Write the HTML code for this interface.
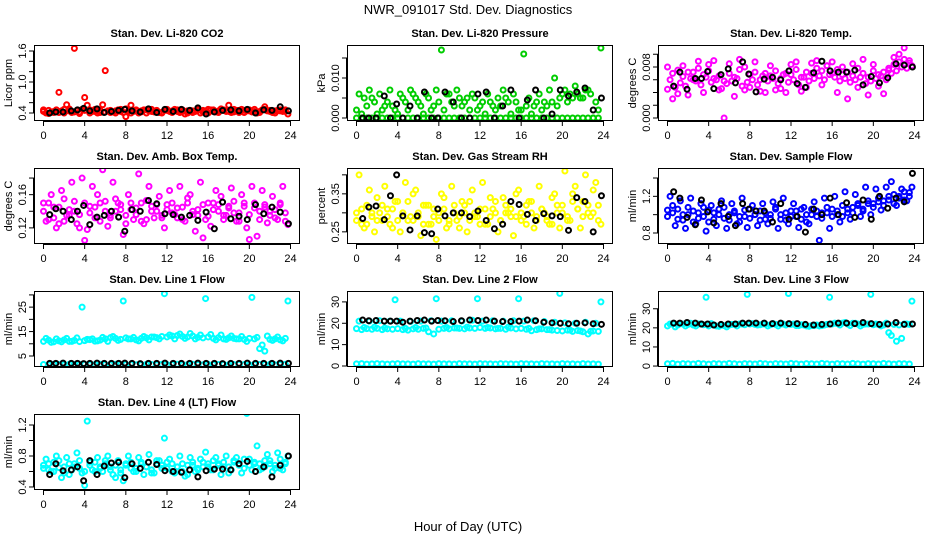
<!DOCTYPE html>
<html><head><meta charset="utf-8"><style>
body{margin:0;background:#fff;width:936px;height:540px;overflow:hidden}
svg{display:block;font-family:"Liberation Sans",sans-serif}
</style></head><body>
<svg id="c" width="936" height="540">
<text x="468" y="14" text-anchor="middle" font-size="13">NWR_091017  Std. Dev. Diagnostics</text>
<text x="468" y="531" text-anchor="middle" font-size="13">Hour of Day (UTC)</text>
</svg>
<script>
const H1=[0,0.5,1,1.5,2,2.5,3,3.5,4,4.5,5,5.5,6,6.5,7,7.5,8,8.5,9,9.5,10,10.5,11,11.5,12,12.5,13,13.5,14,14.5,15,15.5,16,16.5,17,17.5,18,18.5,19,19.5,20,20.5,21,21.5,22,22.5,23,23.5];
const H2=[0.25,0.75,1.25,1.75,2.25,2.75,3.25,3.75,4.25,4.75,5.25,5.75,6.25,6.75,7.25,7.75,8.25,8.75,9.25,9.75,10.25,10.75,11.25,11.75,12.25,12.75,13.25,13.75,14.25,14.75,15.25,15.75,16.25,16.75,17.25,17.75,18.25,18.75,19.25,19.75,20.25,20.75,21.25,21.75,22.25,22.75,23.25,23.75];
const HK=[0.6,1.2,1.9,2.7,3.3,3.9,4.5,5.2,5.9,6.6,7.3,7.9,8.6,9.4,10.2,11.0,11.8,12.6,13.4,14.2,15.0,15.8,16.6,17.4,18.2,19.0,19.8,20.6,21.4,22.2,23.0,23.8];
const xTicks=[0,4,8,12,16,20,24];

const co2A=[0.43,0.45,0.41,0.80,0.47,0.44,1.65,0.42,0.70,0.46,0.43,0.45,1.22,0.41,0.44,0.47,0.33,0.55,0.44,0.42,0.46,0.43,0.45,0.41,0.47,0.44,0.43,0.46,0.40,0.44,0.45,0.42,0.47,0.43,0.44,0.46,0.55,0.42,0.45,0.41,0.44,0.47,0.43,0.52,0.45,0.44,0.46,0.43];
const co2B=[0.40,0.42,0.46,0.44,0.56,0.41,0.45,0.47,0.55,0.43,0.40,0.56,0.44,0.42,0.46,0.41,0.44,0.43,0.40,0.46,0.44,0.42,0.41,0.45,0.43,0.47,0.41,0.38,0.45,0.43,0.40,0.44,0.46,0.42,0.48,0.43,0.41,0.45,0.47,0.44,0.42,0.40,0.46,0.44,0.41,0.45,0.43,0.38];
const co2C=[0.46,0.39,0.43,0.41,0.40,0.48,0.42,0.39,0.45,0.40,0.47,0.41,0.42,0.45,0.40,0.43,0.48,0.40,0.46,0.44,0.40,0.47,0.43,0.40,0.45,0.41,0.46,0.43,0.44,0.41,0.47,0.45,0.40,0.46,0.41,0.45,0.43,0.47,0.41,0.45,0.46,0.43,0.41,0.47,0.43,0.40,0.44,0.46];
const co2K=[0.40,0.42,0.42,0.44,0.46,0.49,0.44,0.48,0.41,0.43,0.45,0.47,0.44,0.42,0.48,0.41,0.47,0.43,0.47,0.45,0.50,0.38,0.42,0.45,0.46,0.44,0.47,0.40,0.46,0.45,0.52,0.44];

const presA=[0,0,0,0,0,0,0,0,0,0,0,0,0,0,0,0,0,0,0,0,0,0,0,0,0,0,0,0,0,0,0,0,0,0,0,0,0,0,0,0,0,0,0,0,0,0,0,0];
const presB=[0.006,0.005,0.007,0.004,0.006,0.003,0.007,0.002,0.006,0.004,0.007,0.005,0.003,0.006,0.002,0.007,0.017,0.006,0.004,0.007,0.003,0.005,0.006,0.002,0.004,0.006,0.003,0.005,0.007,0.004,0.006,0.002,0.016,0.005,0.003,0.006,0.004,0.007,0.010,0.005,0.007,0.006,0.008,0.005,0.007,0.006,0.004,0.0175];
const presC=[0.002,0.001,0.003,0.005,0.001,0.002,0.004,0.003,0.001,0.005,0.002,0.006,0.004,0.001,0.005,0.003,0.004,0.002,0.006,0.003,0.005,0.004,0.002,0.005,0.003,0.001,0.004,0.002,0.003,0.005,0.001,0.004,0.002,0.003,0.001,0.004,0.002,0.003,0.004,0.003,0.006,0.004,0.005,0.006,0.005,0.007,0,0.002];
const presK=[0,0,0,0.0055,0,0.0035,0,0.003,0,0.0065,0,0,0.0065,0.004,0,0,0.006,0.0065,0,0.003,0.007,0,0.0045,0.007,0,0.001,0.007,0.0055,0.0065,0.0075,0.002,0.005];

const ltA=[0.0080,0.0070,0.0075,0.0065,0.0072,0.0060,0.0078,0.0068,0.0074,0.0062,0.0066,0.0058,0.0070,0.0064,0.0076,0.0080,0.0068,0.0072,0.0060,0.0070,0.0066,0.0074,0.0062,0.0070,0.0068,0.0076,0.0064,0.0072,0.0070,0.0078,0.0074,0.0082,0.0070,0.0076,0.0068,0.0072,0.0066,0.0078,0.0070,0.0064,0.0074,0.0068,0.0072,0.0078,0.0084,0.0088,0.0092,0.0086];
const ltB=[0.0060,0.0048,0.0055,0.0050,0.0062,0.0058,0.0052,0.0064,0.0056,0.0060,0.0046,0.0054,0.0058,0.0062,0.0050,0.0056,0.0060,0.0052,0.0066,0.0058,0.0062,0.0054,0.0068,0.0056,0.0060,0.0052,0.0064,0.0058,0.0062,0.0066,0.0060,0.0068,0.0064,0.0058,0.0062,0.0056,0.0060,0.0064,0.0054,0.0058,0.0062,0.0066,0.0060,0.0070,0.0074,0.0080,0.0078,0.0082];
const ltC=[0.0045,0.0030,0.0038,0.0082,0.0036,0.0072,0.0089,0.0040,0.0084,0.0090,0.0044,0.0000,0.0085,0.0034,0.0092,0.0044,0.0048,0.0088,0.0042,0.0040,0.0082,0.0044,0.0046,0.0040,0.0084,0.0088,0.0042,0.0048,0.0086,0.0090,0.0052,0.0082,0.0088,0.0040,0.0080,0.0030,0.0085,0.0048,0.0092,0.0036,0.0084,0.0050,0.0038,0.0075,0.0095,0.0100,0.0110,0.0090];
const ltK=[0.005,0.0072,0.0045,0.0062,0.0062,0.0073,0.0046,0.0068,0.0077,0.0055,0.0088,0.0069,0.0041,0.0061,0.0064,0.0060,0.0074,0.0054,0.0048,0.0071,0.0089,0.0074,0.0072,0.0072,0.0075,0.0052,0.0065,0.0055,0.0063,0.0085,0.0083,0.0080];

const abA=[0.150,0.130,0.145,0.125,0.155,0.135,0.140,0.120,0.150,0.138,0.145,0.128,0.152,0.132,0.140,0.148,0.125,0.142,0.136,0.150,0.130,0.146,0.140,0.132,0.148,0.138,0.144,0.130,0.150,0.136,0.142,0.148,0.134,0.150,0.140,0.130,0.146,0.138,0.128,0.150,0.136,0.144,0.130,0.148,0.140,0.132,0.150,0.138];
const abB=[0.128,0.160,0.120,0.165,0.135,0.175,0.125,0.180,0.118,0.170,0.160,0.190,0.122,0.175,0.150,0.112,0.160,0.130,0.185,0.125,0.170,0.132,0.158,0.120,0.165,0.136,0.170,0.128,0.160,0.116,0.175,0.130,0.122,0.165,0.158,0.135,0.168,0.128,0.160,0.120,0.170,0.110,0.165,0.126,0.158,0.130,0.170,0.124];
const abC=[0.140,0.150,0.132,0.145,0.128,0.142,0.152,0.136,0.105,0.146,0.132,0.150,0.140,0.135,0.155,0.142,0.135,0.150,0.144,0.128,0.153,0.140,0.148,0.135,0.142,0.150,0.132,0.145,0.156,0.140,0.135,0.108,0.150,0.142,0.148,0.135,0.144,0.152,0.138,0.146,0.106,0.150,0.140,0.145,0.135,0.142,0.148,0.128];
const abK=[0.136,0.143,0.140,0.130,0.140,0.147,0.124,0.133,0.135,0.140,0.133,0.116,0.142,0.140,0.153,0.149,0.137,0.136,0.133,0.135,0.129,0.139,0.119,0.151,0.131,0.134,0.130,0.148,0.137,0.145,0.139,0.125];

const rhA=[0.30,0.27,0.32,0.29,0.34,0.28,0.31,0.26,0.33,0.30,0.28,0.35,0.29,0.32,0.27,0.31,0.30,0.34,0.28,0.32,0.26,0.30,0.33,0.29,0.31,0.27,0.34,0.30,0.28,0.32,0.29,0.35,0.30,0.27,0.33,0.29,0.31,0.28,0.34,0.30,0.32,0.29,0.35,0.31,0.33,0.30,0.36,0.32];
const rhB=[0.40,0.26,0.36,0.25,0.30,0.37,0.27,0.33,0.25,0.38,0.29,0.36,0.24,0.32,0.27,0.23,0.35,0.26,0.37,0.28,0.33,0.25,0.36,0.29,0.38,0.27,0.31,0.25,0.34,0.30,0.24,0.36,0.29,0.33,0.26,0.37,0.30,0.27,0.35,0.26,0.41,0.28,0.37,0.26,0.40,0.29,0.38,0.27];
const rhC=[0.28,0.31,0.27,0.30,0.28,0.32,0.29,0.31,0.28,0.30,0.33,0.28,0.30,0.27,0.32,0.29,0.28,0.31,0.27,0.30,0.29,0.32,0.28,0.30,0.27,0.31,0.29,0.33,0.28,0.30,0.31,0.29,0.28,0.32,0.30,0.28,0.31,0.29,0.27,0.32,0.30,0.28,0.33,0.31,0.29,0.32,0.30,0.28];
const rhK=[0.285,0.315,0.318,0.282,0.345,0.40,0.292,0.255,0.292,0.248,0.245,0.31,0.292,0.30,0.30,0.29,0.305,0.28,0.258,0.27,0.33,0.322,0.296,0.28,0.298,0.292,0.29,0.254,0.34,0.33,0.25,0.345];

const sfA=[1.05,1.10,0.95,1.00,1.08,0.92,1.02,0.98,1.05,0.95,1.00,1.08,0.94,1.02,0.98,1.05,0.96,1.00,1.04,0.95,1.00,1.06,0.95,1.02,0.98,1.04,0.95,1.00,1.06,0.98,1.02,1.08,0.98,1.04,1.10,1.02,1.08,1.12,1.06,1.15,1.12,1.18,1.15,1.20,1.22,1.18,1.25,1.20];
const sfB=[1.20,0.88,1.15,0.85,1.18,0.90,1.12,0.82,1.10,0.88,1.15,0.85,1.12,0.90,1.18,0.86,1.10,0.88,1.12,0.90,1.14,0.85,1.18,0.90,1.12,0.86,1.08,0.90,1.14,0.72,1.18,0.85,1.20,0.92,1.25,0.95,1.22,0.98,1.30,1.00,1.28,1.05,1.30,1.36,1.10,1.28,1.15,1.30];
const sfC=[0.98,1.02,1.06,0.94,1.00,1.04,0.96,1.08,0.92,1.02,1.06,0.96,1.00,1.04,0.92,0.98,1.06,1.00,0.94,1.02,0.96,1.08,1.00,0.94,1.04,0.98,1.06,0.92,1.00,1.04,0.96,1.02,1.06,1.00,0.98,1.06,1.02,1.10,1.04,1.12,1.08,1.14,1.10,1.16,1.12,1.20,1.16,1.24];
const sfK=[1.25,1.18,0.97,0.89,1.16,1.03,0.91,1.12,0.98,0.88,1.12,1.06,1.04,1.04,0.92,1.12,0.95,0.98,0.81,1.06,1.00,1.18,1.00,1.13,0.97,1.16,0.95,1.20,1.07,1.18,1.14,1.45];

const l1A=[11,11.5,10.8,11.2,11.6,11,11.4,10.9,11.3,11.7,11.1,11.5,12,12.5,12.2,11.8,12.4,12,11.6,12.2,12.4,12.8,12.5,13,12.8,13.2,13.4,13,12.8,13.2,12.6,12.4,12.8,12.2,12.5,12,12.4,12.2,12,11.8,12.2,12,8,7,11.8,12,11.6,12.2];
const l1B=[12.2,10.6,12,10.8,12.2,11,12.4,25,11.8,12,11.2,12.6,11,13,11.4,27.5,12,12.6,11.2,13,11.6,12.8,12,30.5,13.6,12,14,12.2,14.2,12,13.6,28.5,13.8,11.6,13.6,11.8,13.2,12,13,11,29,12.6,9.5,13.2,11.4,12.8,11.2,27.5];
const l1C=[1.5,1.4,1.6,1.5,1.4,1.6,1.5,1.5,1.6,1.4,1.5,1.6,1.5,1.4,1.6,1.5,1.5,1.6,1.4,1.5,1.6,1.5,1.4,1.6,1.5,1.5,1.6,1.4,1.5,1.6,1.5,1.4,1.6,1.5,1.5,1.6,1.4,1.5,1.6,1.5,1.4,1.6,1.5,1.5,1.6,1.4,1.5,1.6];
const l1K=[2,2,2.1,2,2,1.9,2,2.1,2,2,2,2.1,2,1.9,2,2,2.1,2,2,2,2.1,2,2,1.9,2,2,2.1,2,2,2,2.1,2];

const l2A=[17.5,17,17.5,17.2,17.6,17,17.4,17.2,17.5,17,16.8,17.4,17.2,17.6,16,15,17.2,17.6,17.4,17.8,17.6,17.4,17.8,17.6,18,17.6,17.8,17.4,17.6,17.2,17.8,17.4,17.6,17.2,16.5,17,17.4,17,16.8,16.6,16.4,16.8,16.2,16.6,16,15,16.4,16.2];
const l2B=[21,18,21,18.2,21.2,17.8,21,31,21,17.6,20.8,18,21,17.8,21.2,31.5,21,18,21.2,17.8,21,18.2,21.4,31.5,21,18,21.2,17.6,21,18.2,21.2,31.5,21,17.6,21.2,17.4,20.8,17,20.5,34,20.2,16.8,20,16.4,20.5,16.2,20,30];
const l2C=[1,1.1,0.9,1,1.1,1,0.9,1,1.1,1,1,0.9,1.1,1,1,0.9,1.1,1,1,0.9,1.1,1,1,0.9,1.1,1,1,0.9,1.1,1,1,0.9,1.1,1,1,0.9,1.1,1,1,0.9,1.1,1,1,0.9,1.1,1,1,0.9];
const l2K=[21.5,21.2,21.3,21,21,21,20.5,21,21.3,21.5,21,21.3,21.2,20.8,21.2,21.5,21.3,21.5,21,20.8,20.8,21,21.5,21.2,20.5,20.2,20,19.8,20,20.2,19.8,19.5];

const l3A=[21,22,21.5,22,21.8,21.5,22,21.6,21,21.5,20.8,21.2,21.5,21.8,22,21.6,22,21.8,21.6,22,21.6,21.8,22,21.5,21.8,21.2,21.6,21,21.2,21.5,21.2,21.8,22,22.2,22.5,22,22.4,22,21.8,22,21.6,21.8,21.5,17.5,21.8,21.5,22,21.8];
const l3B=[22,20.5,22.2,21,22.4,21,22,36,22.2,21,21.5,20.5,21.8,21,22,37.5,22.2,21.5,22,21,22.2,21,22,38,22,21.2,21.5,20.8,21.2,21,21.5,36,22.5,21.5,22.8,21.2,22.4,21,22,37.5,22,21,22.5,16,13,14.5,22,34];
const l3C=[1.2,1.4,1.0,1.3,1.2,1.1,1.4,1.2,1.0,1.3,1.2,1.1,1.4,1.2,1.0,1.3,1.2,1.1,1.4,1.2,1.0,1.3,1.2,1.1,1.4,1.2,1.0,1.3,1.2,1.1,1.4,1.2,1.0,1.3,1.2,1.1,1.4,1.2,1.0,1.3,1.2,1.1,1.4,1.2,1.0,1.3,1.2,1.1];
const l3K=[22.5,22.5,22.8,22.5,22,22,21.5,21.8,22,22,22.5,22.5,22.5,22.5,22.2,22.5,22.2,22.2,21.8,21.5,21.8,22,22.5,22.5,22.2,22.8,22.2,21.8,22,22.8,21.8,22];

const l4A=[0.68,0.62,0.72,0.65,0.58,0.70,0.66,0.74,0.60,0.68,0.72,0.64,0.70,0.66,0.52,0.62,0.68,0.72,0.64,0.70,0.66,0.62,0.74,0.68,0.64,0.70,0.66,0.60,0.68,0.72,0.64,0.66,0.70,0.74,0.68,0.72,0.66,0.74,0.70,0.76,0.68,0.72,0.70,0.66,0.74,0.68,0.64,0.70];
const l4B=[0.76,0.60,0.80,0.52,0.78,0.62,0.84,0.58,1.25,0.62,0.78,0.60,0.80,0.56,0.74,0.48,0.80,0.60,0.78,0.56,0.82,0.58,0.74,1.03,0.76,0.58,0.80,0.54,0.78,0.60,0.76,0.85,0.62,0.78,0.56,0.80,0.62,0.78,0.58,1.35,0.62,0.93,0.64,0.82,0.60,0.84,0.62,0.80];
const l4C=[0.64,0.70,0.60,0.74,0.66,0.56,0.70,0.64,0.42,0.72,0.60,0.66,0.74,0.62,0.68,0.58,0.70,0.64,0.60,0.72,0.66,0.58,0.70,0.64,0.72,0.60,0.66,0.70,0.56,0.68,0.62,0.72,0.66,0.62,0.70,0.66,0.58,0.72,0.68,0.64,0.76,0.70,0.62,0.74,0.70,0.64,0.76,0.72];
const l4K=[0.56,0.70,0.61,0.62,0.66,0.48,0.74,0.56,0.67,0.71,0.72,0.52,0.70,0.64,0.72,0.69,0.61,0.60,0.59,0.62,0.53,0.61,0.63,0.63,0.62,0.70,0.73,0.60,0.66,0.53,0.68,0.80];

const titles=["Stan. Dev. Li-820 CO2","Stan. Dev. Li-820 Pressure","Stan. Dev. Li-820 Temp.","Stan. Dev. Amb. Box Temp.","Stan. Dev. Gas Stream RH","Stan. Dev. Sample Flow","Stan. Dev. Line 1 Flow","Stan. Dev. Line 2 Flow","Stan. Dev. Line 3 Flow","Stan. Dev. Line 4 (LT) Flow"];
const ylabs=["Licor ppm","kPa","degrees C","degrees C","percent","ml/min","ml/min","ml/min","ml/min","ml/min"];
const yTicks=[[0.4,0.6,0.8,1.0,1.2,1.4,1.6],[0,0.005,0.01,0.015],[0,0.002,0.004,0.006,0.008,0.010],[0.12,0.14,0.16,0.18],[0.25,0.30,0.35,0.40],[0.8,1.0,1.2,1.4],[5,10,15,20,25,30],[0,10,20,30],[0,10,20,30],[0.4,0.6,0.8,1.0,1.2]];
const yLabels=[["0.4","","","1.0","","","1.6"],["0.000","","0.010",""],["0.000","","","","0.008",""],["0.12","","0.16",""],["0.25","","0.35",""],["0.8","","1.2",""],["5","","15","","25",""],["0","10","20","30"],["0","10","20","30"],["0.4","","0.8","","1.2"]];
const yRanges=[[0.245,1.716],[-0.00075,0.01825],[-0.00047,0.01145],[0.1006,0.1921],[0.218,0.418],[0.68,1.509],[0.5,31.6],[-0.47,35.1],[-0.5,39.3],[0.361,1.342]];
const colors=["#ff0000","#00cd00","#ff00ff","#ff00ff","#ffff00","#0000ff","#00ffff","#00ffff","#00ffff","#00ffff"];
const seriesA=[co2A,presA,ltA,abA,rhA,sfA,l1A,l2A,l3A,l4A];
const seriesB=[co2B,presB,ltB,abB,rhB,sfB,l1B,l2B,l3B,l4B];
const seriesC=[co2C,presC,ltC,abC,rhC,sfC,l1C,l2C,l3C,l4C];
const seriesK=[co2K,presK,ltK,abK,rhK,sfK,l1K,l2K,l3K,l4K];

const NS="http://www.w3.org/2000/svg";
const svg=document.getElementById('c');
const colLeft=[34,347,658], rowTop=[45,168,291,414], PW=266, PH=76;
function mk(tag,attrs,parent){const e=document.createElementNS(NS,tag);for(const k in attrs)e.setAttribute(k,attrs[k]);(parent||svg).appendChild(e);return e;}

for(let p=0;p<10;p++){
  const L=colLeft[p%3], T=rowTop[Math.floor(p/3)];
  const g=mk('g',{});
  
  
  const xs=h=>L+9.5+h/24*247;
  const [y0,y1]=yRanges[p];
  const ys=v=>T+PH-(v-y0)/(y1-y0)*PH;
  const t=mk('text',{x:L+PW/2,y:T-8,'text-anchor':'middle','font-size':11,'font-weight':'bold'},g);
  t.textContent=titles[p];
  
  
  const yl=mk('text',{x:0,y:0,'text-anchor':'middle','font-size':11,transform:`translate(${L-22},${T+PH/2}) rotate(-90)`},g);
  yl.textContent=ylabs[p];
  
  
  const xa=mk('g',{stroke:'#000','stroke-width':1},g);
  
  
  mk('line',{x1:xs(0),x2:xs(24),y1:T+PH+0.5,y2:T+PH+0.5},xa);
  xTicks.forEach(h=>{
    mk('line',{x1:xs(h),x2:xs(h),y1:T+PH,y2:T+PH+5},xa);
    const lb=mk('text',{x:xs(h),y:T+PH+18,'text-anchor':'middle','font-size':11,stroke:'none'},xa);
    lb.textContent=h;
    
    
  });
  const ya=mk('g',{stroke:'#000','stroke-width':1},g);
  
  
  const tk=yTicks[p];
  mk('line',{x1:L-0.5,x2:L-0.5,y1:ys(tk[0]),y2:ys(tk[tk.length-1])},ya);
  tk.forEach((v,i)=>{
    mk('line',{x1:L-5,x2:L,y1:ys(v),y2:ys(v)},ya);
    if(yLabels[p][i]){
      const lb=mk('text',{x:0,y:0,'text-anchor':'middle','font-size':11,stroke:'none',transform:`translate(${L-8},${ys(v)}) rotate(-90)`},ya);
      lb.textContent=yLabels[p][i];
      
      
    }
  });
  const clip='clip'+p;
  const cp=mk('clipPath',{id:clip},g);
  mk('rect',{x:L,y:T,width:PW,height:PH},cp);
  const pts=mk('g',{fill:'none','stroke-width':2,'clip-path':`url(#${clip})`},g);
  
  
  const draw=(hs,vals,col)=>{vals.forEach((v,i)=>{
    const c=mk('circle',{cx:xs(hs[i]),cy:ys(v),r:2.5,stroke:col},pts);
    
    
  });};
  draw(H1,seriesA[p],colors[p]);
  draw(H2,seriesB[p],colors[p]);
  draw(H1,seriesC[p],colors[p]);
  draw(HK,seriesK[p],'#000');
  const box=mk('rect',{x:L+0.5,y:T+0.5,width:PW-1,height:PH-1,fill:'none',stroke:'#000','stroke-width':1},g);
  
  
}
</script>
</body></html>
